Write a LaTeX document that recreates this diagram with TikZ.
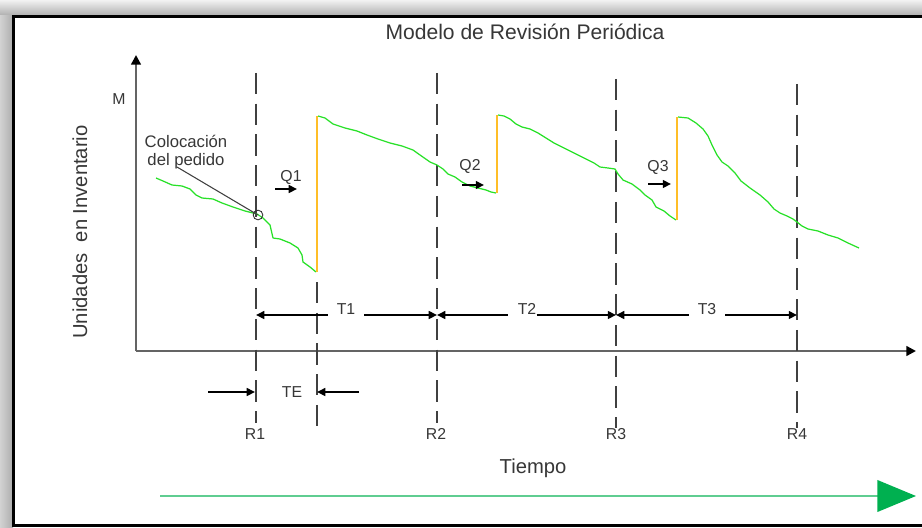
\documentclass[tikz,border=0pt]{standalone}
\usepackage{fontspec}
\setmainfont{Liberation Sans}
\usepackage{tikz}
\usetikzlibrary{arrows.meta,calc}

\definecolor{stockgreen}{RGB}{40,225,40}
\definecolor{orderorange}{RGB}{255,190,40}
\definecolor{axisgray}{RGB}{100,100,100}
\definecolor{labelgray}{RGB}{55,55,55}
\definecolor{timegreen}{RGB}{0,176,80}
\definecolor{timeline}{RGB}{95,205,145}

\begin{document}
\begin{tikzpicture}[
    x=0.02cm, y=-0.02cm,
    lbl/.style={font=\fontsize{9}{10}\selectfont, text=labelgray, inner sep=1pt},
    biglbl/.style={font=\fontsize{11.5}{13}\selectfont, text=labelgray, inner sep=1pt},
    axis/.style={draw=axisgray, line width=1.3pt, -{Triangle[length=5.5pt,width=5.5pt,color=black]}},
    review/.style={draw=black!75, line width=1pt, dash pattern=on 12pt off 5.5pt},
    dim/.style={draw=black, line width=0.8pt, -{Triangle[length=4.7pt,width=4.5pt]}},
    stock/.style={draw=stockgreen, line width=0.7pt, line join=round},
    order/.style={draw=orderorange, line width=1.4pt}
]
\useasboundingbox (0,0) rectangle (922,527);

% Frame with shadow
\shade[top color=gray!10, bottom color=gray!65] (0,0) rectangle (922,16);
\shade[left color=gray!35, right color=gray!65] (0,16) rectangle (13,527);
\fill[white] (13,16) rectangle (922,527);
\draw[black, line width=1.7pt] (922,16.5) -- (13.5,16.5) -- (13.5,525.5) -- (922,525.5);

% Title and axis labels
\node[biglbl, font=\fontsize{12}{14}\selectfont] (title) at (525,32) {Modelo de Revisión Periódica};
\node[lbl] (mlabel) at (119,99) {M};
\node[biglbl, rotate=90] (units) at (80,232) {Unidades~ en Inventario};
\node[biglbl] (time) at (533,468) {Tiempo};

% Axes
\coordinate (origin) at (136,351);
\coordinate (ytop) at (136,55);
\coordinate (xend) at (916,351);
\draw[axis] (origin) -- (ytop);
\draw[axis] (origin) -- (xend);

% Review lines
\coordinate (r1top) at (256,73);  \coordinate (r1bot) at (256,423);
\coordinate (r2top) at (437,73);  \coordinate (r2bot) at (437,423);
\coordinate (r3top) at (616,79);  \coordinate (r3bot) at (616,428);
\coordinate (r4top) at (797,84);  \coordinate (r4bot) at (797,428);
\coordinate (tetop) at (317,282); \coordinate (tebot) at (317,429);
\draw[review] (r1top) -- (r1bot);
\draw[review] (r2top) -- (r2bot);
\draw[review] (r3top) -- (r3bot);
\draw[review] (r4top) -- (r4bot);
\draw[review] (tetop) -- (tebot);

\node[lbl] (r1) at (255,434) {R1};
\node[lbl] (r2) at (436,434) {R2};
\node[lbl] (r3) at (616,434) {R3};
\node[lbl] (r4) at (797,434) {R4};

% Inventory level
\draw[stock] (156,178) -- (163,181) -- (172,185) -- (182,186) -- (190,189) -- (196,195)
  -- (202,198) -- (213,199) -- (222,203) -- (233,207) -- (245,211) -- (257,214)
  -- (263,218) -- (270,225) -- (273,238) -- (280,239) -- (290,243) -- (298,248)
  -- (302,255) -- (303,262) -- (310,267) -- (316,272);
\draw[order] (317,272) -- (317,116);
\draw[stock] (318,116) -- (325,118) -- (333,124) -- (345,128) -- (357,131) -- (367,135)
  -- (378,139) -- (390,143) -- (402,146) -- (413,150) -- (420,155) -- (430,162)
  -- (437,165) -- (443,169) -- (448,174) -- (455,177) -- (462,182) -- (470,186)
  -- (478,188) -- (486,190) -- (491,192) -- (496,193);
\draw[order] (497,193) -- (497,115);
\draw[stock] (498,115) -- (504,116) -- (510,119) -- (516,124) -- (522,127) -- (530,129)
  -- (538,133) -- (546,138) -- (554,143) -- (564,148) -- (574,153) -- (584,158)
  -- (594,163) -- (600,167) -- (608,168) -- (615,169) -- (618,174) -- (623,180)
  -- (632,184) -- (640,190) -- (645,195) -- (652,200) -- (656,207) -- (664,211)
  -- (670,216) -- (676,220);
\draw[order] (677,220) -- (677,117);
\draw[stock] (678,117) -- (688,118) -- (696,123) -- (703,129) -- (708,136) -- (712,145)
  -- (717,155) -- (722,162) -- (728,166) -- (735,173) -- (741,181) -- (750,188)
  -- (760,195) -- (768,202) -- (774,209) -- (780,213) -- (787,216) -- (793,219)
  -- (797,222) -- (802,226) -- (808,229) -- (818,231) -- (828,235) -- (838,238)
  -- (848,243) -- (859,248);

% Order placement
\node[lbl, font=\fontsize{9.5}{10.5}\selectfont, align=center] (placing) at (186,152) {Colocación\\del pedido};
\node[draw=black!80, circle, inner sep=0pt, minimum size=5.5pt, line width=0.5pt] (orderpt) at (258,215) {};
\draw[black!75, line width=0.6pt] (177,167) -- (orderpt.center);

% Order quantities
\node[lbl] (q1) at (291,177) {Q1};
\coordinate (q1a) at (275,189); \coordinate (q1b) at (297,189);
\draw[dim] (q1a) -- (q1b);
\node[lbl] (q2) at (470,166) {Q2};
\coordinate (q2a) at (462,185); \coordinate (q2b) at (484,185);
\draw[dim] (q2a) -- (q2b);
\node[lbl] (q3) at (658,167) {Q3};
\coordinate (q3a) at (648,184); \coordinate (q3b) at (671,184);
\draw[dim] (q3a) -- (q3b);

% Review periods
\coordinate (r1dim) at (256,315);
\coordinate (r2dim) at (437,315);
\coordinate (r3dim) at (616,315);
\coordinate (r4dim) at (797,315);
\node[lbl, inner xsep=5pt] (t1) at (346,309) {T1};
\node[lbl, inner xsep=0pt] (t2) at (527,309) {T2};
\node[lbl, inner xsep=5pt] (t3) at (707,309) {T3};
\draw[dim] (t1.west |- r1dim) -- (r1dim);
\draw[dim] (t1.east |- r1dim) -- (r2dim);
\draw[dim] ([xshift=-5.5pt]t2.west |- r2dim) -- (r2dim);
\draw[dim] (t2.east |- r2dim) -- (r3dim);
\draw[dim] (t3.west |- r3dim) -- (r3dim);
\draw[dim] (t3.east |- r3dim) -- (r4dim);

% Lead time
\node[lbl] (te) at (292,392) {TE};
\coordinate (tea) at (208,392); \coordinate (teb) at (359,392);
\draw[dim] (tea) -- (r1 |- te);
\draw[dim] (teb) -- (tetop |- te);

% Time arrow
\coordinate (timea) at (160,496); \coordinate (timeb) at (916,496);
\draw[draw=timeline, line width=1pt, -{Triangle[length=22pt,width=18pt,color=timegreen]}] (timea) -- (timeb);

\end{tikzpicture}
\end{document}
